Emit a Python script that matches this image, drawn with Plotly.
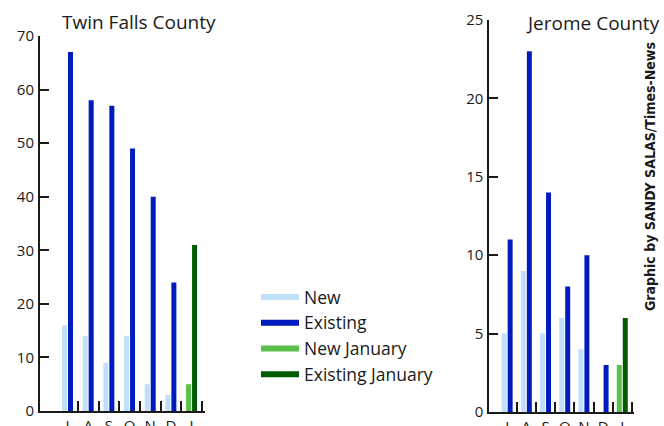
import plotly.graph_objects as go

# ---- data ----
months = ["J", "A", "S", "O", "N", "D", "J"]
tf_new = [16, 14, 9, 14, 5, 3]
tf_existing = [67, 58, 57, 49, 40, 24]
tf_new_jan = [5]
tf_existing_jan = [31]

je_new = [5, 9, 5, 6, 4, 0]
je_existing = [11, 23, 14, 8, 10, 3]
je_new_jan = [3]
je_existing_jan = [6]

tf_yticks = [0, 10, 20, 30, 40, 50, 60, 70]
je_yticks = [0, 5, 10, 15, 20, 25]

C_NEW = "#c0dffa"
C_EXIST = "#001cbd"
C_NEWJAN = "#5cbf4b"
C_EXJAN = "#005a00"
INK = "#1a1a1a"
FONT = "'Open Sans', Lato, sans-serif"

W, H = 664, 426
fig = go.Figure()

pos_months = list(range(6))
pos_jan = [6]


def add_county(new, existing, new_jan, existing_jan, xa, ya, w, off_new, off_ex):
    fig.add_trace(go.Bar(x=pos_months, y=new, width=w, offset=off_new,
                         marker=dict(color=C_NEW, line=dict(width=0)),
                         xaxis=xa, yaxis=ya, showlegend=False, name="New"))
    fig.add_trace(go.Bar(x=pos_months, y=existing, width=w, offset=off_ex,
                         marker=dict(color=C_EXIST, line=dict(width=0)),
                         xaxis=xa, yaxis=ya, showlegend=False, name="Existing"))
    fig.add_trace(go.Bar(x=pos_jan, y=new_jan, width=w, offset=off_new,
                         marker=dict(color=C_NEWJAN, line=dict(width=0)),
                         xaxis=xa, yaxis=ya, showlegend=False, name="New January"))
    fig.add_trace(go.Bar(x=pos_jan, y=existing_jan, width=w, offset=off_ex,
                         marker=dict(color=C_EXJAN, line=dict(width=0)),
                         xaxis=xa, yaxis=ya, showlegend=False, name="Existing January"))


add_county(tf_new, tf_existing, tf_new_jan, tf_existing_jan, "x", "y", 0.242, -0.266, 0.024)
add_county(je_new, je_existing, je_new_jan, je_existing_jan, "x2", "y2", 0.26, -0.286, 0.026)

# legend entries drawn as thick line swatches
for name, col in [("New", C_NEW), ("Existing", C_EXIST),
                  ("New January", C_NEWJAN), ("Existing January", C_EXJAN)]:
    fig.add_trace(go.Scatter(x=[None], y=[None], mode="lines", name=name,
                             line=dict(color=col, width=6), xaxis="x", yaxis="y"))


def xaxis_cfg(domain, rng):
    return dict(domain=domain, range=rng, anchor=None, showgrid=False, zeroline=False,
                showline=True, linecolor=INK, linewidth=2,
                tickmode="array", tickvals=list(range(7)), ticktext=months,
                ticks="", tickfont=dict(size=15, color=INK, family=FONT),
                minor=dict(tickmode="array", tickvals=[i + 0.5 for i in range(7)],
                           ticks="inside", ticklen=10, tickwidth=2, tickcolor=INK,
                           showgrid=False),
                automargin=False, fixedrange=True)


def yaxis_cfg(domain, rng, tv):
    return dict(domain=domain, range=rng, showgrid=False, zeroline=False,
                showline=True, linecolor=INK, linewidth=2,
                tickmode="array", tickvals=tv, ticks="inside", ticklen=9,
                tickwidth=2, tickcolor=INK, ticklabelstandoff=1,
                tickfont=dict(size=15, color=INK, family=FONT),
                automargin=False, fixedrange=True)


xa1 = xaxis_cfg([40 / W, 205 / W], [-1.33, 6.65]); xa1["anchor"] = "y"
xa2 = xaxis_cfg([489.3 / W, 634 / W], [-0.93, 6.61]); xa2["anchor"] = "y2"
ya1 = yaxis_cfg([15 / H, 390 / H], [0, 70], tf_yticks); ya1["anchor"] = "x"
ya2 = yaxis_cfg([14 / H, 406 / H], [0, 25], je_yticks); ya2["anchor"] = "x2"

fig.update_layout(
    width=W, height=H, template="none",
    paper_bgcolor="white", plot_bgcolor="rgba(0,0,0,0)",
    margin=dict(l=0, r=0, t=0, b=0),
    barmode="overlay",
    font=dict(family=FONT, color=INK),
    xaxis=xa1, yaxis=ya1, xaxis2=xa2, yaxis2=ya2,
    showlegend=True,
    legend=dict(x=256 / W, y=(H - 279) / H, xanchor="left", yanchor="top",
                bgcolor="rgba(0,0,0,0)", borderwidth=0, itemwidth=38,
                font=dict(size=17.5, color=INK, family=FONT)),
    annotations=[
        dict(text="Twin Falls County", x=60 / W, y=(H - 22) / H, xref="paper", yref="paper",
             xanchor="left", yanchor="middle", showarrow=False,
             font=dict(size=19, color=INK, family=FONT)),
        dict(text="Jerome County", x=524 / W, y=(H - 23) / H, xref="paper", yref="paper",
             xanchor="left", yanchor="middle", showarrow=False,
             font=dict(size=19, color=INK, family=FONT)),
        dict(text="<b>Graphic by SANDY SALAS/Times-News</b>", x=650 / W, y=(H - 177) / H,
             xref="paper", yref="paper", xanchor="center", yanchor="middle",
             showarrow=False, textangle=-90,
             font=dict(size=14, color=INK,
                       family="'Liberation Sans Narrow', 'DejaVu Sans Condensed', 'Arial Narrow', sans-serif")),
    ],
)

fig.write_html("out.html", config={"displayModeBar": False, "staticPlot": True},
               post_script="document.body.style.margin='0';document.body.style.padding='0';")
